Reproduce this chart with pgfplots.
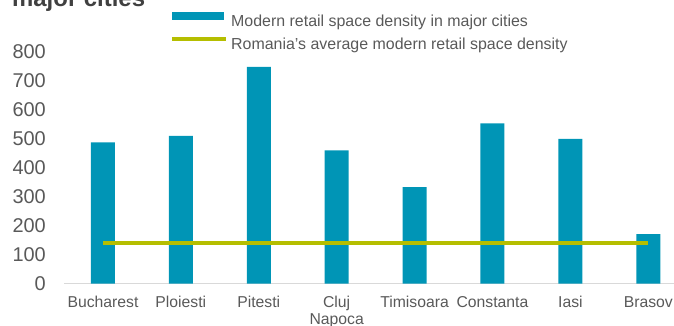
\documentclass[border=0pt]{standalone}
\usepackage{fontspec}
\setmainfont{Liberation Sans}
\usepackage{pgfplots}
\pgfplotsset{compat=1.18}
\definecolor{barc}{RGB}{0,149,182}
\definecolor{linec}{RGB}{181,190,0}
\definecolor{txt}{RGB}{89,89,89}
\definecolor{ttl}{RGB}{64,64,64}
\definecolor{axgray}{RGB}{217,217,217}
\begin{document}
\begin{tikzpicture}
\begin{axis}[
  scale only axis,
  width=610bp, height=232bp,
  xmin=-0.5, xmax=7.33,
  ymin=0, ymax=800,
  ytick={0,100,...,800},
  xtick={0,...,7},
  xticklabels={Bucharest,Ploiesti,Pitesti,{Cluj\\Napoca},Timisoara,Constanta,Iasi,Brasov},
  axis x line*=bottom, axis y line*=left,
  y axis line style={draw=none},
  x axis line style={draw=axgray, line width=1.3bp},
  major tick length=0pt,
  /pgf/number format/assume math mode=true,
  yticklabel style={anchor=east, inner sep=0pt, xshift=-18bp, text=txt, font=\fontsize{20}{22}\selectfont},
  xticklabel style={anchor=north, inner sep=0pt, yshift=-12.5bp, align=center, text=txt, font=\fontsize{15.8}{17}\selectfont},
  clip=false,
  legend cell align=left,
  legend style={draw=none, fill=none, inner sep=0pt, at={(0.1738,1.169)}, anchor=north west,
    font=\fontsize{16}{18}\selectfont, text=txt, row sep=6.4bp, column sep=3bp,
    nodes={inner sep=0pt, text height=12bp, text depth=4bp}},
]
\addplot[ybar, bar width=24bp, fill=barc, draw=none,
  legend image code/.code={\fill[barc] (0bp,2bp) rectangle (52bp,10bp);}]
  coordinates {(0,487) (1,509) (2,747) (3,459) (4,332) (5,552) (6,499) (7,170)};
\addlegendentry{Modern retail space density in major cities}
\addplot[linec, line width=4bp, mark=none,
  legend image code/.code={\draw[linec, line width=4bp] (0bp,6.5bp) -- (54bp,6.5bp);}]
  coordinates {(0,139) (1,139) (2,139) (3,139) (4,139) (5,139) (6,139) (7,139)};
\addlegendentry{Romania's average modern retail space density}
\end{axis}
\node[anchor=base west, inner sep=0pt, text=ttl, font=\bfseries\fontsize{24}{28}\selectfont] at (-52bp,276.5bp) {major cities};
\pgfresetboundingbox
\path[use as bounding box] (-64bp,-42.5bp) rectangle (610bp,283.5bp);
\end{tikzpicture}
\end{document}
